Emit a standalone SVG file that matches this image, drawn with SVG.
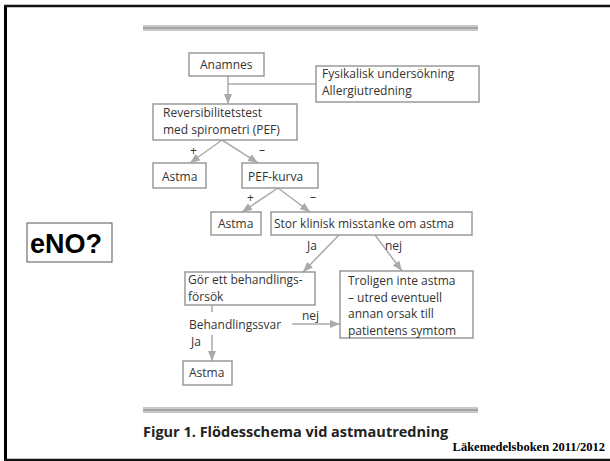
<svg xmlns="http://www.w3.org/2000/svg" width="610" height="461" viewBox="0 0 610 461">
<style>
.box{fill:#fff;stroke:#9a9a9a;stroke-width:1.5}
.t{font-family:"Open Sans","Liberation Sans",sans-serif;font-size:12px;fill:#333}
.c{stroke:#aaa;stroke-width:1.5;fill:none}
.rule{fill:#c8c8c8}
</style>
<defs>
<marker id="ah" markerUnits="userSpaceOnUse" markerWidth="10" markerHeight="8" refX="10" refY="4" orient="auto">
<path d="M0,0 L10,4 L0,8 z" fill="#aaa"/>
</marker>
</defs>
<rect width="610" height="461" fill="#fff"/>
<line x1="5.5" y1="5" x2="5.5" y2="461" stroke="#000" stroke-width="3"/>
<line x1="4" y1="6" x2="610" y2="6" stroke="#111" stroke-width="2.5"/>
<line x1="4" y1="460" x2="610" y2="460" stroke="#111" stroke-width="2.5"/>
<g id="rules">
<rect class="rule" x="143" y="25" width="335" height="6"/>
<line x1="143" y1="28" x2="478" y2="28" stroke="#999" stroke-width="1.5"/>
<rect class="rule" x="143" y="407" width="335" height="6"/>
<line x1="143" y1="410" x2="478" y2="410" stroke="#999" stroke-width="1.5"/>
</g>
<g id="connectors">
<line class="c" x1="228" y1="76" x2="228" y2="104" marker-end="url(#ah)"/>
<line class="c" x1="228" y1="84" x2="316" y2="84"/>
<line class="c" x1="222" y1="140" x2="190" y2="163" marker-end="url(#ah)"/>
<line class="c" x1="222" y1="140" x2="258" y2="163" marker-end="url(#ah)"/>
<line class="c" x1="278" y1="188" x2="242" y2="212" marker-end="url(#ah)"/>
<line class="c" x1="278" y1="188" x2="310" y2="212" marker-end="url(#ah)"/>
<line class="c" x1="339" y1="235" x2="303" y2="272" marker-end="url(#ah)"/>
<line class="c" x1="375" y1="235" x2="402" y2="271" marker-end="url(#ah)"/>
<line class="c" x1="212" y1="305" x2="212" y2="312"/>
<line class="c" x1="292" y1="324" x2="340" y2="324" marker-end="url(#ah)"/>
<line class="c" x1="212" y1="335" x2="212" y2="361" marker-end="url(#ah)"/>
<text class="t" x="190" y="155">+</text>
<text class="t" x="259" y="154">–</text>
<text class="t" x="247" y="202">+</text>
<text class="t" x="310" y="201">–</text>
<text class="t" x="307" y="250">Ja</text>
<text class="t" x="385" y="250">nej</text>
<text class="t" x="302" y="320">nej</text>
<text class="t" x="189" y="329">Behandlingssvar</text>
<text class="t" x="191" y="346">Ja</text>
</g>
<g id="anamnes"><rect class="box" x="189" y="53" width="75" height="23"/><text class="t" x="200" y="69">Anamnes</text></g>
<g id="fysikalisk"><rect class="box" x="316" y="66" width="163" height="36"/><text class="t"><tspan x="322" y="78">Fysikalisk undersökning</tspan><tspan x="322" y="94.5">Allergiutredning</tspan></text></g>
<g id="reversibilitet"><rect class="box" x="153" y="104" width="144" height="36"/><text class="t"><tspan x="163" y="117">Reversibilitetstest</tspan><tspan x="163" y="133.5">med spirometri (PEF)</tspan></text></g>
<g id="astma1"><rect class="box" x="153" y="163" width="53" height="25"/><text class="t" x="162" y="181">Astma</text></g>
<g id="pefkurva"><rect class="box" x="242" y="163" width="76" height="25"/><text class="t" x="248" y="181">PEF-kurva</text></g>
<g id="astma2"><rect class="box" x="211" y="212" width="50" height="23"/><text class="t" x="218" y="228">Astma</text></g>
<g id="stor"><rect class="box" x="271" y="212" width="201" height="23"/><text class="t" x="274" y="228">Stor klinisk misstanke om astma</text></g>
<g id="gor"><rect class="box" x="185" y="272" width="130" height="33"/><text class="t"><tspan x="188" y="284">Gör ett behandlings-</tspan><tspan x="188" y="300.5">försök</tspan></text></g>
<g id="troligen"><rect class="box" x="340" y="271" width="133" height="67"/><text class="t"><tspan x="348" y="285">Troligen inte astma</tspan><tspan x="348" y="301.5">– utred eventuell</tspan><tspan x="348" y="318">annan orsak till</tspan><tspan x="348" y="334.5">patientens symtom</tspan></text></g>
<g id="astma3"><rect class="box" x="183" y="361" width="49" height="24"/><text class="t" x="189" y="377">Astma</text></g>
<g id="eno"><rect x="27" y="223" width="85" height="39" fill="#fff" stroke="#555" stroke-width="1"/><text x="30" y="253" font-family="Liberation Sans,Arial,sans-serif" font-weight="bold" font-size="27" fill="#000">eNO?</text></g>
<text x="143" y="437" font-family="Open Sans,Liberation Sans,sans-serif" font-weight="bold" font-size="14.5" fill="#222">Figur 1. Flödesschema vid astmautredning</text>
<text x="605" y="451" text-anchor="end" font-family="Liberation Serif,Times New Roman,serif" font-weight="bold" font-size="12.5" fill="#000">Läkemedelsboken 2011/2012</text>
</svg>
